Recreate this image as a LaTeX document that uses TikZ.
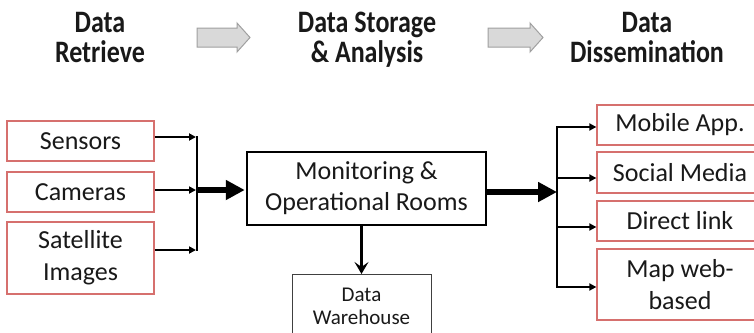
\documentclass[tikz,border=0pt]{standalone}
\usepackage{fontspec}
\usepackage{graphicx}
\setmainfont{Carlito}
\usetikzlibrary{arrows.meta}
\definecolor{boxred}{RGB}{214,112,110}
\definecolor{txt}{RGB}{25,25,25}
\definecolor{hfill}{RGB}{217,217,217}
\definecolor{hdraw}{RGB}{160,160,160}
\begin{document}
\begin{tikzpicture}[x=1pt,y=-1pt,
  redbox/.style={draw=boxred, line width=1.3pt, fill=white, text=txt,
    font=\fontsize{26}{32}\selectfont, align=center, inner sep=0pt},
  mainbox/.style={draw=black, line width=2.5pt, fill=white, text=txt,
    font=\fontsize{26}{31}\selectfont, align=center, inner sep=0pt},
  dwbox/.style={draw=black!75, line width=1pt, fill=white, text=txt,
    font=\fontsize{21}{23}\selectfont, align=center, inner sep=0pt},
  hdr/.style={text=black!90, inner sep=0pt,
    font=\fontsize{26}{22.5}\selectfont\bfseries},
  hdrarrow/.style={fill=hfill, draw=hdraw, line width=1pt, line join=miter},
  thinarrow/.style={line width=2pt, -{Triangle[length=7pt,width=7pt]}},
  barline/.style={line width=2.5pt, line cap=rect},
  thickarrow/.style={line width=5.5pt, -{Triangle[length=19pt,width=19pt]}},
  downarrow/.style={line width=2.5pt, -{Stealth[length=12pt,width=14pt,inset=5pt]}}
]
\useasboundingbox (0,0) rectangle (754,332);
\clip (0,0) rectangle (754,332);

% headers
\node[hdr] (h1) at (100,41) {\scalebox{1}[1.2]{\begin{tabular}{@{}c@{}}Data\\Retrieve\end{tabular}}};
\node[hdr] (h2) at (367,41) {\scalebox{1}[1.2]{\begin{tabular}{@{}c@{}}Data Storage\\\& Analysis\end{tabular}}};
\node[hdr] (h3) at (647,41) {\scalebox{1}[1.2]{\begin{tabular}{@{}c@{}}Data\\Dissemination\end{tabular}}};

\draw[hdrarrow] (197,28) -- (237,28) -- (237,23) -- (250,37.5) -- (237,52) -- (237,47) -- (197,47) -- cycle;
\draw[hdrarrow] (488,28) -- (530,28) -- (530,23) -- (543,37.5) -- (530,52) -- (530,47) -- (488,47) -- cycle;

% left boxes
\node[redbox, minimum width=147pt, minimum height=40pt] (sensors) at (80.5,141) {Sensors};
\node[redbox, minimum width=147pt, minimum height=40pt] (cameras) at (80.5,192) {Cameras};
\node[redbox, minimum width=147pt, minimum height=72pt] (satellite) at (80.5,258) {Satellite\\Images};

% main box
\node[mainbox, minimum width=239pt, minimum height=73pt] (main) at (366.5,188.5) {Monitoring \&\\Operational Rooms};

% data warehouse
\node[dwbox, minimum width=139pt, minimum height=64pt, anchor=north] (dw) at (361.5,274) {Data\\Warehouse};

% right boxes
\node[redbox, minimum width=166pt, minimum height=40pt] (mobile) at (680,125) {Mobile App.};
\node[redbox, minimum width=166pt, minimum height=41pt] (social) at (680,172.5) {Social Media};
\node[redbox, minimum width=166pt, minimum height=40pt] (direct) at (680,221) {Direct link};
\node[redbox, minimum width=166pt, minimum height=71pt] (map) at (680,284.5) {Map web-\\based};

% junctions
\coordinate (jl) at (197,190);
\coordinate (jr) at (557,192);

% left connectors
\draw[barline] ([yshift=4pt]sensors.east -| jl) -- ([yshift=8pt]satellite.east -| jl);
\draw[thinarrow] ([yshift=4pt]sensors.east) -- ([yshift=4pt,xshift=-1pt]sensors.east -| jl);
\draw[thinarrow] ([yshift=2pt]cameras.east) -- ([yshift=2pt,xshift=-1pt]cameras.east -| jl);
\draw[thinarrow] ([yshift=8pt]satellite.east) -- ([yshift=8pt,xshift=-1pt]satellite.east -| jl);
\draw[thickarrow] (jl) -- ([xshift=-1pt]main.west |- jl);

% down
\draw[downarrow] (main.south -| dw.north) -- (dw.north);

% right connectors
\draw[thickarrow] (main.east |- jr) -- (jr);
\draw[barline] ([yshift=-2pt]mobile.west -| jr) -- ([yshift=-2.5pt]map.west -| jr);
\draw[thinarrow] ([yshift=-2pt]mobile.west -| jr) -- ([yshift=-2pt]mobile.west);
\draw[thinarrow] ([yshift=-5.5pt]social.west -| jr) -- ([yshift=-5.5pt]social.west);
\draw[thinarrow] ([yshift=-6pt]direct.west -| jr) -- ([yshift=-6pt]direct.west);
\draw[thinarrow] ([yshift=-2.5pt]map.west -| jr) -- ([yshift=-2.5pt]map.west);
\end{tikzpicture}
\end{document}
